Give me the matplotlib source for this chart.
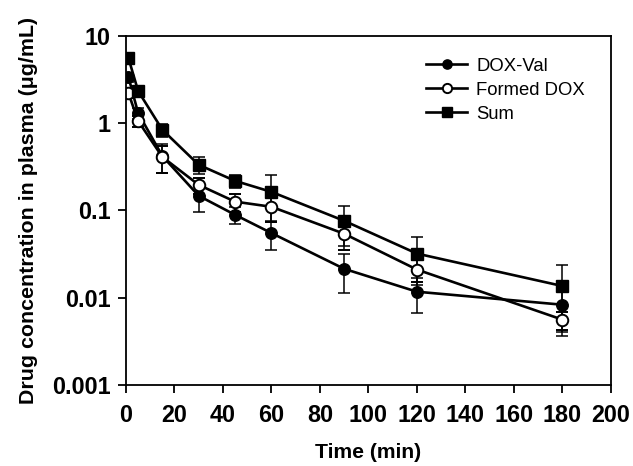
import matplotlib
matplotlib.use("Agg")
import matplotlib.pyplot as plt
from matplotlib.ticker import FixedLocator, FixedFormatter, NullLocator

plt.rcParams['font.family'] = ['Liberation Sans', 'DejaVu Sans']

time = [1, 5, 15, 30, 45, 60, 90, 120, 180]
dox_val = [3.4, 1.31, 0.42, 0.147, 0.089, 0.055, 0.0214, 0.0117, 0.0083]
dox_val_sd = [0.4, 0.2, 0.15, 0.05, 0.02, 0.02, 0.01, 0.005, 0.0043]
formed = [2.22, 1.06, 0.41, 0.196, 0.126, 0.11, 0.054, 0.021, 0.0056]
formed_sd = [0.3, 0.15, 0.14, 0.04, 0.03, 0.036, 0.019, 0.006, 0.0013]
total = [5.6, 2.34, 0.84, 0.333, 0.218, 0.163, 0.076, 0.032, 0.0136]
total_sd = [0.6, 0.2, 0.15, 0.075, 0.037, 0.09, 0.037, 0.018, 0.010]

yticks = [0.001, 0.01, 0.1, 1, 10]
ytick_labels = ['0.001', '0.01', '0.1', '1', '10']
xticks = list(range(0, 201, 20))

fig = plt.figure(figsize=(6.33, 4.66), dpi=100)
ax = fig.add_axes([0.199, 0.174, 0.766, 0.749])

common = dict(color='black', linewidth=1.9, markersize=8.3, ecolor='black',
              elinewidth=1.1, capsize=4.3, capthick=1.1)
ax.errorbar(time, dox_val, yerr=dox_val_sd, marker='o', markerfacecolor='black',
            markeredgecolor='black', label='DOX-Val', **common)
ax.errorbar(time, formed, yerr=formed_sd, marker='o', markerfacecolor='white',
            markeredgecolor='black', markeredgewidth=1.4, label='Formed DOX', **common)
ax.errorbar(time, total, yerr=total_sd, marker='s', markerfacecolor='black',
            markeredgecolor='black', label='Sum', **common)

ax.set_yscale('log')
ax.set_ylim(0.001, 10)
ax.set_xlim(0, 200)
ax.yaxis.set_major_locator(FixedLocator(yticks))
ax.yaxis.set_major_formatter(FixedFormatter(ytick_labels))
ax.yaxis.set_minor_locator(NullLocator())
ax.set_xticks(xticks)

for lab in ax.get_xticklabels() + ax.get_yticklabels():
    lab.set_fontweight('bold')
    lab.set_fontsize(16.8)

ax.tick_params(axis='both', which='major', direction='out', length=6, width=1.3,
               top=False, right=False, pad=5)
ax.tick_params(axis='x', pad=8)
for s in ax.spines.values():
    s.set_linewidth(1.3)

ax.set_xlabel('Time (min)', fontsize=15.2, fontweight='bold', labelpad=11)
ax.set_ylabel('Drug concentration in plasma (\u03bcg/mL)', fontsize=15.4,
              fontweight='bold', labelpad=10)

handles, labels = ax.get_legend_handles_labels()
handles = [h[0] for h in handles]
leg = ax.legend(handles, labels, loc='upper left', bbox_to_anchor=(0.585, 0.985),
                frameon=False, fontsize=13.3, handlelength=2.2, markerscale=0.8,
                labelspacing=0.38, handletextpad=0.5)

fig.savefig('out.png', dpi=100)
